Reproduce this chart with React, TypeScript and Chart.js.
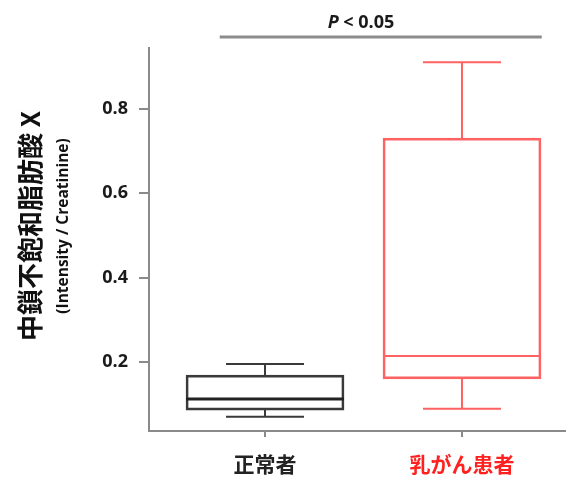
import React, { useEffect, useRef } from "react";
import { Chart, registerables } from "chart.js";

Chart.register(...registerables);

const categories = ["正常者", "乳がん患者"];
const categoryColors = ["#222222", "#ff2020"];
const boxColors = ["#3a3a3a", "#ff6262"];
const mins = [0.07, 0.089];
const q1s = [0.086, 0.16];
const medians = [0.112, 0.214];
const q3s = [0.169, 0.731];
const maxs = [0.195, 0.911];
const yTicks = [0.2, 0.4, 0.6, 0.8];
const yTitle = "中鎖不飽和脂肪酸 X";
const ySubtitle = "(Intensity / Creatinine)";
const pItalic = "P";
const pRest = " < 0.05";
const bracketFrom = 0.77;
const bracketTo = 2.405;

const AXIS = "#8a8a8a";

export default function App() {
  const ref = useRef<HTMLCanvasElement>(null);
  useEffect(() => {
    document.body.style.margin = "0";
    const canvas = ref.current!;
    const boxPlugin = {
      id: "boxExtras",
      afterDatasetsDraw(chart: any) {
        const { ctx, scales } = chart;
        const xs = scales.x;
        const ys = scales.y;
        const capHalf = 39;
        ctx.save();
        categories.forEach((_, i) => {
          const cx = xs.getPixelForValue(i + 1);
          ctx.strokeStyle = boxColors[i];
          ctx.lineWidth = 2;
          ctx.beginPath();
          ctx.moveTo(cx, ys.getPixelForValue(q3s[i]));
          ctx.lineTo(cx, ys.getPixelForValue(maxs[i]));
          ctx.moveTo(cx - capHalf, ys.getPixelForValue(maxs[i]));
          ctx.lineTo(cx + capHalf, ys.getPixelForValue(maxs[i]));
          ctx.moveTo(cx, ys.getPixelForValue(q1s[i]));
          ctx.lineTo(cx, ys.getPixelForValue(mins[i]));
          ctx.moveTo(cx - capHalf, ys.getPixelForValue(mins[i]));
          ctx.lineTo(cx + capHalf, ys.getPixelForValue(mins[i]));
          ctx.stroke();
          ctx.lineWidth = i === 0 ? 3 : 2;
          ctx.strokeStyle = i === 0 ? "#222222" : boxColors[i];
          ctx.beginPath();
          ctx.moveTo(cx - 79, ys.getPixelForValue(medians[i]));
          ctx.lineTo(cx + 79, ys.getPixelForValue(medians[i]));
          ctx.stroke();
        });
        ctx.restore();
      },
      afterDraw(chart: any) {
        const { ctx, scales } = chart;
        const xs = scales.x;
        ctx.save();
        const x0 = xs.getPixelForValue(bracketFrom);
        const x1 = xs.getPixelForValue(bracketTo);
        ctx.strokeStyle = "#8c8c8c";
        ctx.lineWidth = 3;
        ctx.beginPath();
        ctx.moveTo(x0, 37);
        ctx.lineTo(x1, 37);
        ctx.stroke();
        ctx.fillStyle = "#1a1a1a";
        ctx.textBaseline = "middle";
        ctx.font = 'italic bold 18px "Open Sans"';
        const wP = ctx.measureText(pItalic).width;
        ctx.font = 'bold 18px "Open Sans"';
        const wR = ctx.measureText(pRest).width;
        const start = 361 - (wP + wR) / 2;
        ctx.textAlign = "left";
        ctx.font = 'italic bold 18px "Open Sans"';
        ctx.fillText(pItalic, start, 23);
        ctx.font = 'bold 18px "Open Sans"';
        ctx.fillText(pRest, start + wP, 23);
        ctx.translate(30, 226);
        ctx.rotate(-Math.PI / 2);
        ctx.textAlign = "center";
        ctx.fillStyle = "#111111";
        ctx.font = 'bold 26px "Noto Sans CJK JP"';
        ctx.fillText(yTitle, 0, 0);
        ctx.font = 'bold 15.5px "Open Sans"';
        ctx.fillText(ySubtitle, 0, 34);
        ctx.restore();
      },
    };

    const chart = new Chart(canvas, {
      type: "bar",
      data: {
        datasets: [
          {
            data: categories.map((_, i) => ({ x: i + 1, y: [q1s[i], q3s[i]] })) as any,
            backgroundColor: "rgba(0,0,0,0)",
            borderColor: boxColors,
            borderWidth: 2,
            borderSkipped: false,
            barThickness: 158,
          },
        ],
      },
      options: {
        responsive: false,
        animation: false,
        layout: { padding: { top: 48, right: 6, left: 0, bottom: 0 } },
        plugins: { legend: { display: false }, tooltip: { enabled: false } },
        scales: {
          x: {
            type: "linear",
            offset: false,
            min: 0.411,
            max: 2.523,
            afterBuildTicks: (s: any) => {
              s.ticks = categories.map((_, i) => ({ value: i + 1 }));
            },
            afterFit: (s: any) => {
              s.height = 46;
            },
            border: { display: true, color: AXIS, width: 2 },
            grid: { display: true, offset: false, drawOnChartArea: false, drawTicks: true, tickLength: 6, color: AXIS, lineWidth: 2 },
            ticks: {
              padding: 14,
              autoSkip: false,
              maxRotation: 0,
              color: (c: any) => categoryColors[Math.round(c.tick.value) - 1],
              font: { family: '"Noto Sans CJK JP"', size: 21, weight: "bold" },
              callback: (v: any) => categories[Math.round(v) - 1],
            },
          },
          y: {
            type: "linear",
            min: 0.0364,
            max: 0.9446,
            afterBuildTicks: (s: any) => {
              s.ticks = yTicks.map((v) => ({ value: v }));
            },
            afterFit: (s: any) => {
              s.width = 149;
            },
            border: { display: true, color: AXIS, width: 2 },
            grid: { display: true, drawOnChartArea: false, drawTicks: true, tickLength: 10, color: AXIS, lineWidth: 2 },
            ticks: {
              padding: 11,
              color: "#1a1a1a",
              font: { family: '"Open Sans"', size: 18, weight: "bold" },
              callback: (v: any) => Number(v).toFixed(1),
            },
          },
        },
      },
      plugins: [boxPlugin],
    } as any);
    return () => chart.destroy();
  }, []);
  return (
    <div style={{ width: 571, height: 477, background: "#fff" }}>
      <canvas ref={ref} width={571} height={477} />
    </div>
  );
}
